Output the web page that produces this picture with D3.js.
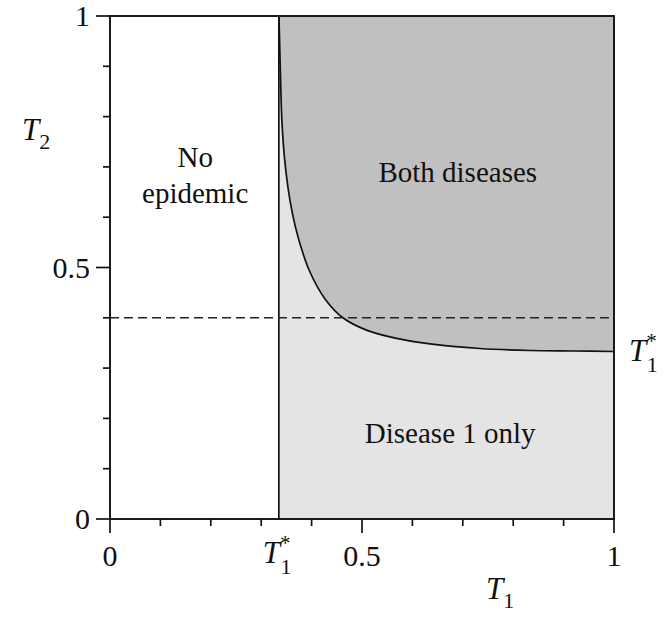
<!DOCTYPE html>
<html>
<head>
<meta charset="utf-8">
<script src="https://cdn.jsdelivr.net/npm/d3@7"></script>
<style>
  body { margin: 0; background: #fff; }
  text { font-family: "Liberation Serif", "Times New Roman", serif; fill: #111; }
</style>
</head>
<body>
<div id="chart"></div>
<script>
// data
var tStar = 0.335;          // T1* threshold
var dashT2 = 0.4;           // dashed horizontal line
var tickValues = [0, 0.1, 0.2, 0.3, 0.4, 0.5, 0.6, 0.7, 0.8, 0.9, 1];
var majorTicks = [0, 0.5, 1];
var curveT1 = [0.336, 0.338, 0.341, 0.346, 0.353, 0.362, 0.373, 0.395, 0.427, 0.462, 0.51, 0.569, 0.635, 0.734, 0.833, 0.92, 1.0];
var curveT2 = [0.97, 0.89, 0.793, 0.72, 0.660, 0.607, 0.561, 0.495, 0.437, 0.400, 0.375, 0.359, 0.348, 0.339, 0.335, 0.334, 0.333];

var svgWidth = 668;
var svgHeight = 621;
var chartMargin = { top: 16, right: 54, bottom: 102, left: 110 };
var chartWidth = svgWidth - chartMargin.left - chartMargin.right;
var chartHeight = svgHeight - chartMargin.top - chartMargin.bottom;

var svg = d3.select("#chart").append("svg")
    .attr("width", svgWidth)
    .attr("height", svgHeight);

var g = svg.append("g")
    .attr("transform", `translate(${chartMargin.left}, ${chartMargin.top})`);

var x = d3.scaleLinear().domain([0, 1]).range([0, chartWidth]);
var y = d3.scaleLinear().domain([0, 1]).range([chartHeight, 0]);

var pts = curveT1.map((d, i) => [d, curveT2[i]]);
var boundary = [[tStar, 1]].concat(pts);
var line = d3.line().x(d => x(d[0])).y(d => y(d[1])).curve(d3.curveCatmullRom.alpha(0.5));

// light region: disease 1 only
g.append("rect")
    .attr("x", x(tStar))
    .attr("y", y(1))
    .attr("width", x(1) - x(tStar))
    .attr("height", y(0) - y(1))
    .attr("fill", "#e4e4e4");

// dark region: both diseases (above the curve)
g.append("path")
    .attr("d", line(boundary) + `L${x(1)},${y(1)}Z`)
    .attr("fill", "#c0c0c0");

// boundary curve
g.append("path")
    .attr("d", line(boundary))
    .attr("fill", "none")
    .attr("stroke", "#111")
    .attr("stroke-width", 1.7);

// vertical line at T1*
g.append("line")
    .attr("x1", x(tStar)).attr("x2", x(tStar))
    .attr("y1", y(0)).attr("y2", y(1))
    .attr("stroke", "#111").attr("stroke-width", 1.7);

// dashed line
g.append("line")
    .attr("x1", x(0)).attr("x2", x(1))
    .attr("y1", y(dashT2)).attr("y2", y(dashT2))
    .attr("stroke", "#222").attr("stroke-width", 1.5)
    .attr("stroke-dasharray", "9,5");

// frame
g.append("rect")
    .attr("x", 0).attr("y", 0)
    .attr("width", chartWidth).attr("height", chartHeight)
    .attr("fill", "none")
    .attr("stroke", "#111").attr("stroke-width", 1.9);

// ticks
var isMajor = d => majorTicks.indexOf(d) >= 0;
g.selectAll(".xtick").data(tickValues).enter().append("line")
    .attr("x1", d => x(d)).attr("x2", d => x(d))
    .attr("y1", chartHeight).attr("y2", d => chartHeight + (isMajor(d) ? 14 : 7))
    .attr("stroke", "#111").attr("stroke-width", 1.7);
g.selectAll(".ytick").data(tickValues).enter().append("line")
    .attr("y1", d => y(d)).attr("y2", d => y(d))
    .attr("x1", 0).attr("x2", d => isMajor(d) ? -14 : -7)
    .attr("stroke", "#111").attr("stroke-width", 1.7);

var fs = 30;
g.selectAll(".xlab").data(majorTicks).enter().append("text")
    .attr("x", d => x(d)).attr("y", chartHeight + 47)
    .attr("text-anchor", "middle")
    .style("font-size", fs + "px")
    .text(d => d3.format("")(d));
g.selectAll(".ylab").data(majorTicks).enter().append("text")
    .attr("x", -20).attr("y", d => y(d) + 10)
    .attr("text-anchor", "end")
    .style("font-size", fs + "px")
    .text(d => d3.format("")(d));

// T with subscript (and optional star)
function tLabel(px, py, sub, star) {
    var t = g.append("text").attr("x", px).attr("y", py).style("font-size", "31px");
    t.append("tspan").style("font-style", "italic").text("T");
    if (star) {
        t.append("tspan").attr("dx", 0).attr("dy", -13).style("font-size", "21px").text("*");
        t.append("tspan").attr("dx", -10).attr("dy", 24).style("font-size", "22px").text(sub);
    } else {
        t.append("tspan").attr("dx", 0).attr("dy", 9).style("font-size", "22px").text(sub);
    }
    return t;
}
tLabel(-88, 124, "2", false);
tLabel(376, 583, "1", false);
tLabel(x(tStar) - 16, chartHeight + 44, "1", true);
tLabel(chartWidth + 15, y(1 / 3) + 10, "1", true);

// region labels
function regionText(tx, ty, lines) {
    var t = g.append("text")
        .attr("text-anchor", "middle")
        .style("font-size", "29px");
    lines.forEach(function(s, i) {
        t.append("tspan").attr("x", x(tx)).attr("y", y(ty) + i * 36).text(s);
    });
}
regionText(0.169, 0.70, ["No", "epidemic"]);
regionText(0.69, 0.67, ["Both diseases"]);
regionText(0.675, 0.151, ["Disease 1 only"]);
</script>
</body>
</html>
